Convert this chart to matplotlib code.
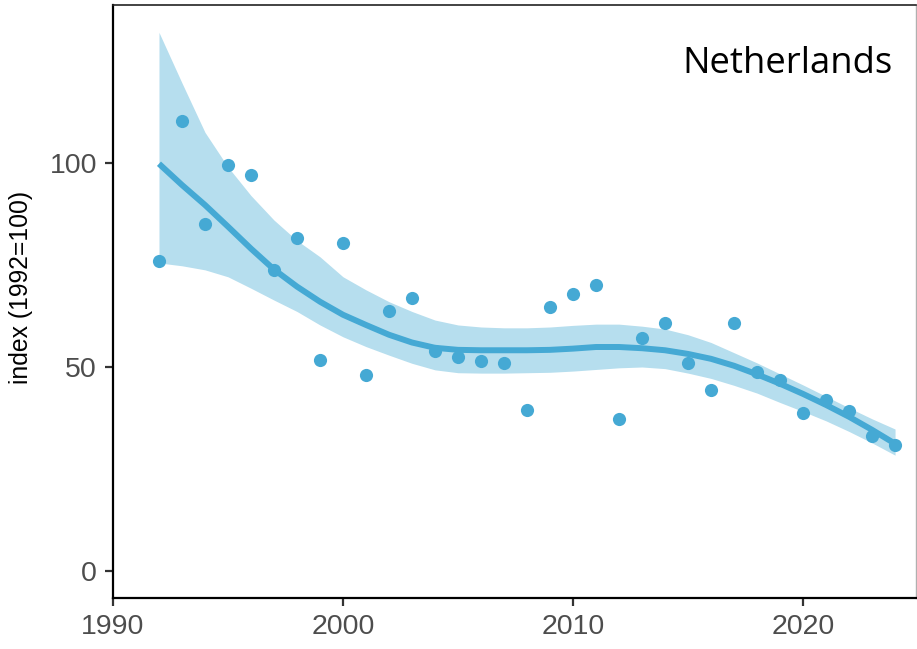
import numpy as np
import matplotlib
matplotlib.use('Agg')
import matplotlib.pyplot as plt

# observed index values (1992 = 100)
years = np.arange(1992, 2025)
index_obs = [76.0, 110.3, 85.0, 99.5, 97.0, 73.8, 81.6, 51.7, 80.4, 48.0,
             63.7, 66.9, 53.9, 52.5, 51.5, 51.0, 39.5, 64.7, 67.9, 70.1,
             37.3, 57.1, 60.8, 51.0, 44.4, 60.8, 48.8, 46.8, 38.7, 41.9,
             39.2, 33.1, 30.9]

# smoothed trend and its confidence band
trend = [99.8, 94.6, 89.7, 84.4, 79.0, 73.9, 69.7, 66.0, 62.8, 60.3,
         57.9, 56.0, 54.7, 54.2, 54.1, 54.1, 54.1, 54.2, 54.5, 54.9,
         54.9, 54.6, 54.1, 53.2, 52.0, 50.3, 48.2, 45.9, 43.4, 40.7,
         37.8, 34.6, 31.2]
upper = [132.0, 119.6, 107.5, 99.0, 92.0, 86.0, 81.0, 77.0, 72.1, 68.9,
         66.0, 63.6, 61.5, 60.3, 59.8, 59.6, 59.6, 59.8, 60.2, 60.5,
         60.5, 60.0, 59.3, 57.9, 56.0, 53.5, 51.0, 48.3, 45.6, 42.8,
         40.0, 37.3, 34.8]
lower = [75.5, 74.8, 73.8, 72.1, 69.3, 66.4, 63.6, 60.3, 57.4, 55.0,
         52.9, 50.9, 49.3, 48.6, 48.5, 48.5, 48.6, 48.7, 49.0, 49.4,
         49.8, 50.0, 49.6, 48.5, 47.2, 45.5, 43.6, 41.3, 39.1, 36.8,
         34.2, 31.4, 28.4]

country = 'Netherlands'
x_ticks = [1990, 2000, 2010, 2020]
y_ticks = [0, 50, 100]

blue = '#45A9D4'
band = '#B6DEEE'

fig = plt.figure(figsize=(9.17, 6.49), dpi=100)
ax = fig.add_axes([0.1232, 0.0786, 0.8757, 0.9137])

ax.fill_between(years, lower, upper, color=band, lw=0, zorder=1)
ax.scatter(years, index_obs, s=90, color=blue, lw=0, zorder=2)
ax.plot(years, trend, color=blue, lw=4.3, solid_capstyle='butt', zorder=3)

ax.set_xlim(1990, 2024.91)
ax.set_ylim(-6.6, 138.7)
ax.set_xticks(x_ticks)
ax.set_yticks(y_ticks)
ax.tick_params(labelsize=20.5, labelcolor='#4D4D4D', length=6, width=1.6,
               color='#333333', pad=5.5)
for lab in ax.get_xticklabels() + ax.get_yticklabels():
    lab.set_family(['Liberation Sans', 'DejaVu Sans'])

ax.set_ylabel('index (1992=100)', fontsize=17.8, color='black',
              family=['Liberation Sans', 'DejaVu Sans'])
ax.yaxis.set_label_coords(-0.099, 0.523)

for side in ['left', 'bottom']:
    ax.spines[side].set_color('black')
    ax.spines[side].set_linewidth(1.6)
ax.spines['top'].set_color('#222222')
ax.spines['top'].set_linewidth(1.2)
ax.spines['right'].set_color('#B0B0B0')
ax.spines['right'].set_linewidth(1.0)

ax.text(0.971, 0.885, country, transform=ax.transAxes, ha='right',
        va='baseline', fontsize=26.3, family=['Open Sans', 'DejaVu Sans'])

fig.savefig('out.png', dpi=100)
